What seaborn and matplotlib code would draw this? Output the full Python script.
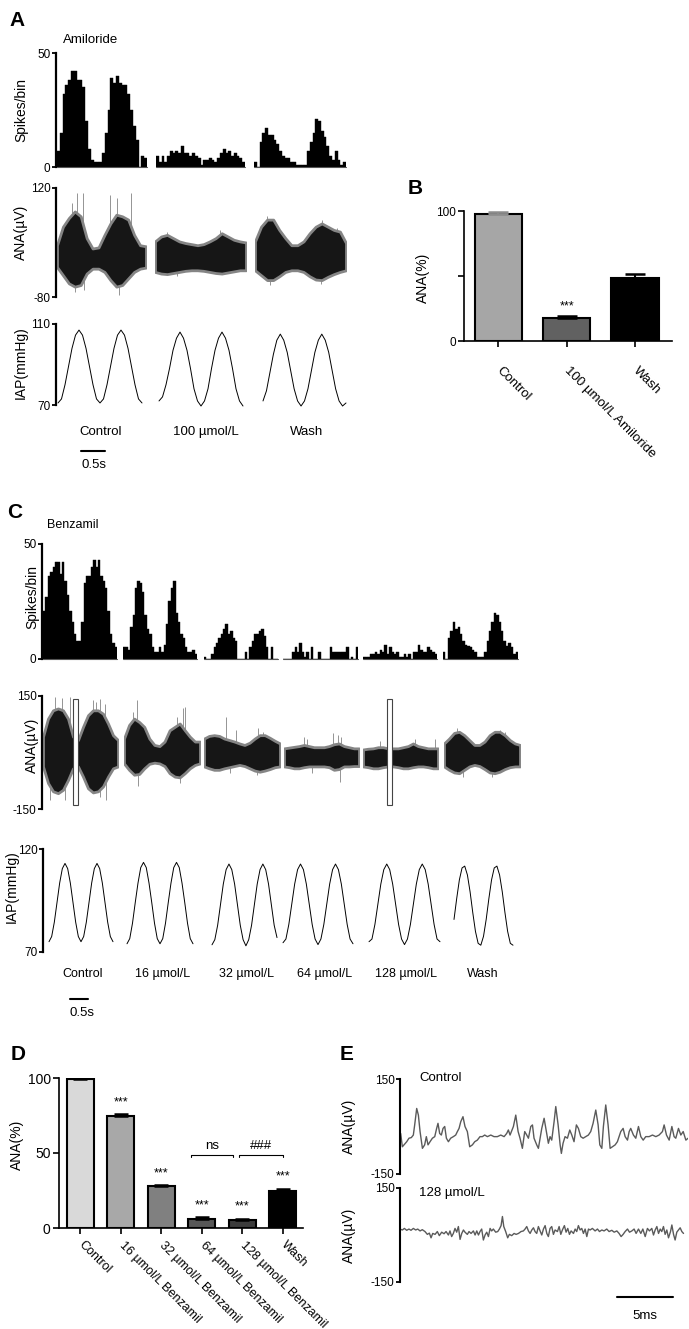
import numpy as np
import matplotlib
matplotlib.use("Agg")
import matplotlib.pyplot as plt
import seaborn as sns
from matplotlib.lines import Line2D
from matplotlib.patches import Rectangle

# ---------------- data ----------------
# A  (amiloride): spikes per bin for Control / 100 umol/L / Wash
hist_a = [
    [7, 15, 32, 36, 38, 42, 42, 38, 38, 35, 20, 8, 3, 2, 2, 2, 6, 15, 25, 39, 37, 40, 37, 36, 36, 32, 25, 18, 12, 0, 5, 4],
    [5, 2, 5, 2, 5, 7, 6, 7, 6, 9, 6, 6, 5, 6, 5, 4, 1, 3, 3, 4, 3, 2, 4, 6, 8, 6, 7, 5, 6, 5, 4, 2],
    [2, 0, 11, 15, 17, 14, 14, 12, 10, 7, 5, 4, 4, 2, 2, 1, 1, 1, 1, 7, 11, 15, 21, 20, 16, 13, 9, 5, 3, 7, 3, 1, 2],
]
# A: ANA envelope (uV), upper / lower edge, and the tallest single spikes
ana_a_hi = [
    [15, 49, 65, 77, 68, 28, 9, 11, 34, 55, 71, 68, 62, 34, 15, 13],
    [22, 31, 34, 28, 22, 19, 17, 15, 17, 22, 28, 37, 31, 25, 22, 20],
    [22, 49, 62, 62, 43, 28, 15, 15, 22, 37, 49, 55, 49, 43, 40, 19],
]
ana_a_lo = [
    [-25, -40, -55, -61, -58, -37, -28, -28, -34, -49, -61, -58, -46, -34, -28, -26],
    [-34, -37, -38, -36, -34, -32, -31, -31, -32, -34, -36, -37, -35, -33, -31, -31],
    [-31, -40, -49, -49, -42, -34, -31, -31, -34, -42, -48, -49, -43, -38, -34, -31],
]
spike_a_pos = [[2.5, 3.3, 4.3, 9.0, 10.1, 12.4, 3.1, 4.5, 10.4], [1.9, 10.7, 3.6], [1.9, 11.0, 13.5, 2.4, 10.8]]
spike_a_tip = [[92, 110, 110, 108, 102, 111, -71, -68, -77], [40, 43, -42], [68, 62, 46, -58, -57]]
# A: IAP (mmHg)
iap_a = [
    [71, 73, 80, 89, 98, 104.5, 107, 104.5, 98, 89, 80, 73, 71, 73, 80, 89, 98, 104.5, 107, 104.5, 98, 89, 80, 73, 71],
    [72, 74, 80, 88, 97, 103, 106, 103, 97, 88, 78, 72, 69.5, 72, 78, 88, 97, 103, 106, 103, 97, 88, 78, 72, 69.5],
    [72, 77, 86, 95, 102, 105, 102, 96, 87, 78, 72, 69.5, 72, 78, 87, 96, 102, 105, 102, 96, 87, 78, 72, 69.5, 71],
]
a_conditions = ["Control", "100 µmol/L", "Wash"]

# B
b_labels = ["Control", "100 µmol/L Amiloride", "Wash"]
b_values = [97.8, 17.6, 48.8]
b_sem = [1.4, 1.3, 3.1]
b_marks = ["", "***", ""]

# C  (benzamil)
c_conditions = ["Control", "16 µmol/L", "32 µmol/L", "64 µmol/L", "128 µmol/L", "Wash"]
hist_c = [
    [21, 27, 36, 38, 40, 42, 42, 37, 42, 34, 28, 21, 16, 11, 8, 8, 16, 33, 36, 36, 40, 43, 40, 43, 36, 34, 31, 21, 11, 7, 5],
    [5, 5, 4, 14, 19, 31, 34, 33, 29, 19, 13, 11, 5, 3, 3, 5, 3, 6, 15, 25, 31, 34, 20, 16, 11, 9, 5, 3, 3, 4, 2],
    [1, 0, 0, 2, 5, 7, 9, 11, 13, 15, 11, 12, 9, 8, 0, 0, 0, 3, 0, 5, 8, 11, 11, 12, 13, 10, 5, 0, 5, 0, 0],
    [0, 0, 0, 0, 3, 5, 3, 7, 3, 1, 3, 0, 5, 0, 0, 3, 0, 0, 0, 0, 5, 3, 3, 3, 3, 3, 3, 5, 0, 1, 0, 5],
    [1, 1, 1, 2, 2, 3, 2, 4, 3, 6, 2, 5, 3, 2, 3, 1, 1, 2, 1, 2, 0, 3, 3, 6, 4, 3, 3, 5, 4, 3, 2],
    [3, 0, 9, 12, 16, 13, 14, 11, 8, 6, 5.5, 5, 4, 3, 1, 1, 1, 3, 8, 12, 16, 20, 19, 16, 12, 8, 5.5, 7, 5, 2, 3],
]
ana_c_hi = [
    [42, 90, 112, 117, 112, 90, 42, 33, 68, 99, 112, 112, 103, 77, 46, 33],
    [37, 73, 90, 81, 68, 37, 20, 17, 29, 59, 68, 77, 59, 42, 29, 29],
    [37, 44, 46, 44, 37, 33, 29, 24, 20, 26, 37, 46, 46, 39, 31, 24],
    [11, 13, 15, 17, 20, 17, 14, 14, 14, 17, 22, 24, 17, 14, 11, 11],
    [8, 10, 11, 14, 14, 11, 11, 11, 14, 17, 24, 17, 14, 11, 11, 11],
    [24, 37, 52, 55, 46, 33, 20, 20, 29, 46, 55, 55, 46, 33, 24, 20],
]
ana_c_lo = [
    [-37, -81, -103, -108, -99, -73, -42, -37, -64, -95, -106, -103, -90, -64, -42, -37],
    [-29, -46, -59, -57, -42, -30, -27, -29, -36, -55, -64, -66, -55, -42, -33, -29],
    [-37, -42, -46, -46, -42, -39, -36, -33, -36, -42, -48, -51, -48, -44, -39, -37],
    [-37, -39, -42, -42, -39, -37, -37, -37, -37, -39, -46, -44, -37, -37, -36, -36],
    [-37, -39, -42, -42, -39, -37, -37, -39, -42, -42, -39, -37, -37, -39, -42, -42],
    [-37, -46, -53, -55, -46, -37, -33, -36, -44, -53, -55, -51, -44, -39, -37, -37],
]
spike_c_pos = [
    [2.3, 3.7, 5.3, 10.0, 10.7, 11.3, 12.3, 1.3, 4.3, 11.3, 12.7],
    [1.7, 2.5, 10.4, 11.6, 12.1, 2.8, 11.0],
    [4.3, 6.4, 10.7, 11.7, 5.1, 10.4],
    [3.9, 4.5, 9.9, 10.9, 11.5, 11.2, 5.5],
    [3.3, 10.3, 14.3],
    [2.5, 11.1, 12.0, 3.8, 9.4],
]
spike_c_tip = [
    [148, 146, 148, 139, 134, 143, 130, -125, -125, -118, -125],
    [108, 140, 95, 117, 120, -90, -81],
    [95, 59, 64, 55, -55, -60],
    [42, 35, 51, 46, 40, -77, -55],
    [31, 35, 35],
    [64, 59, 55, -64, -64],
]
iap_c = [
    [75, 77.5, 84.5, 94, 103.5, 110.5, 113, 110.5, 103.5, 94, 84.5, 77.5, 75, 77.5, 84.5, 94, 103.5, 110.5, 113, 110.5, 103.5, 94, 84.5, 77.5, 75],
    [74, 76.5, 84, 94, 103.5, 111, 113.5, 111, 103.5, 94, 84, 76.5, 74, 76.5, 84, 94, 103.5, 111, 113.5, 111, 103.5, 94, 84, 76.5, 74],
    [73.5, 76, 83, 93, 103, 110, 112.7, 110, 103, 93, 83, 76, 73, 76, 83, 93, 103, 110, 112.7, 110, 103, 93, 83, 77],
    [74.5, 76.3, 83.4, 93.2, 103, 110, 112.7, 110, 103, 93.2, 83.4, 76.3, 73.6, 76.3, 83.4, 93.2, 103, 110, 112.7, 110, 103, 93.2, 83.4, 76.3, 74],
    [75, 76.3, 83.4, 93.2, 103, 110, 112.7, 110, 103, 93.2, 83.4, 76.3, 73.6, 76.3, 83.4, 93.2, 103, 110, 112.7, 110, 103, 93.2, 83.4, 76.3, 75],
    [85.8, 95.9, 105, 110.8, 111.7, 107.4, 99.2, 89.1, 80, 74.2, 73.3, 77.6, 85.8, 95.9, 105, 110.8, 111.7, 107.4, 99.2, 89.1, 80, 74.2, 73.3],
]

# D
d_labels = ["Control", "16 µmol/L Benzamil", "32 µmol/L Benzamil",
            "64 µmol/L Benzamil", "128 µmol/L Benzamil", "Wash"]
d_values = [99.3, 74.4, 27.8, 6.2, 5.6, 24.7]
d_sem = [0.7, 1.6, 0.8, 0.9, 0.5, 1.5]
d_marks = ["", "***", "***", "***", "***", "***"]

# E: raw ANA (time in ms, voltage in uV)
e_ctrl_t = [0.06, 0.21, 0.36, 0.60, 0.80, 1.01, 1.19, 1.31, 1.49, 1.64, 1.79, 2.00, 2.20, 2.35, 2.50, 2.68,
            2.89, 3.10, 3.27, 3.39, 3.54, 3.69, 3.84, 3.99, 4.14, 4.32, 4.52, 4.76, 4.97, 5.12, 5.27, 5.42,
            5.62, 5.80, 6.01, 6.22, 6.46, 6.67, 6.90, 7.14, 7.35, 7.56, 7.80, 8.10, 8.39, 8.69, 8.99, 9.29,
            9.52, 9.67, 9.82, 9.94, 10.12, 10.33, 10.54, 10.71, 10.92, 11.13, 11.31, 11.46, 11.67, 11.82,
            11.96, 12.20, 12.35, 12.50, 12.65, 12.86, 13.06, 13.24, 13.39, 13.54, 13.75, 13.90, 14.11, 14.29,
            14.40, 14.55, 14.73, 14.94, 15.15, 15.33, 15.53, 15.74, 15.92, 16.13, 16.34, 16.58, 16.81, 17.02,
            17.23, 17.47, 17.68, 17.83, 18.01, 18.15, 18.36, 18.57, 18.75, 18.96, 19.20, 19.40, 19.70, 19.91,
            20.09, 20.30, 20.45, 20.59, 20.83, 21.04, 21.28, 21.49, 21.70, 21.93, 22.23, 22.53, 22.83, 23.12,
            23.42, 23.57, 23.78, 24.02, 24.26, 24.46, 24.61, 24.85, 25.06, 25.27, 25.51, 25.71]
e_ctrl_v = [-22, -64, -58, -48, -37, -35, -27, 5, 57, 36, -16, -69, -58, -32, -58, -48,
            -37, -32, -6, 10, -22, -27, -6, 0, -37, -48, -37, -32, -27, -16, -6, 15,
            31, 0, -16, -64, -58, -48, -43, -32, -32, -27, -32, -27, -32, -32, -27, -32,
            -22, -11, -27, -16, 0, 36, -16, -37, -69, -16, -27, -37, 0, 5,
            -37, -58, -69, -37, -6, 26, -16, -53, -32, -43, 15, 63, 5, -58,
            -85, -53, -32, -37, -11, -27, -48, 5, -6, -32, -37, -32, -27, -16,
            10, 52, 5, -58, -69, 0, 68, 5, -69, -64, -58, -48, -16, -6,
            -32, -43, -16, -6, -27, -37, 0, -32, -43, -32, -32, -27, -32, -27,
            -16, 5, -27, -43, 0, -32, -37, -6, -27, -16, -43, -37]
e_drug_t = [0.0, 0.21, 0.39, 0.60, 0.80, 0.98, 1.19, 1.40, 1.58, 1.79, 1.99, 2.23, 2.44, 2.62, 2.77, 2.92,
            3.13, 3.33, 3.51, 3.72, 3.93, 4.11, 4.32, 4.46, 4.61, 4.76, 4.91, 5.06, 5.21, 5.36, 5.51, 5.66,
            5.80, 6.01, 6.16, 6.34, 6.55, 6.70, 6.85, 7.00, 7.14, 7.29, 7.44, 7.59, 7.74, 7.89, 8.04, 8.18,
            8.33, 8.54, 8.72, 8.87, 9.02, 9.14, 9.26, 9.43, 9.61, 9.76, 9.97, 10.18, 10.36, 10.57, 10.80,
            11.01, 11.16, 11.31, 11.46, 11.61, 11.76, 11.91, 12.05, 12.20, 12.35, 12.50, 12.65, 12.80, 12.95,
            13.10, 13.24, 13.39, 13.54, 13.69, 13.84, 14.05, 14.20, 14.35, 14.49, 14.67, 14.82, 14.97, 15.12,
            15.27, 15.48, 15.63, 15.77, 15.92, 16.07, 16.22, 16.37, 16.52, 16.67, 16.82, 16.96, 17.17, 17.41,
            17.62, 17.80, 18.01, 18.21, 18.45, 18.66, 18.90, 19.11, 19.35, 19.55, 19.73, 19.91, 20.09, 20.30,
            20.48, 20.69, 20.89, 21.07, 21.28, 21.49, 21.67, 21.88, 22.08, 22.26, 22.47, 22.62, 22.77, 22.92,
            23.07, 23.22, 23.36, 23.51, 23.66, 23.81, 23.96, 24.14, 24.26, 24.41, 24.55, 24.70, 24.85, 25.00,
            25.15, 25.30]
e_drug_v = [19, 16, 21, 15, 19, 15, 21, 16, 19, 13, 17, 11, 2, 6, -9, 5,
            2, 11, -2, 9, 4, 11, 0, 13, -5, 5, 21, 9, 27, -14, 5, 16,
            9, 2, 11, 5, 13, 0, 13, 0, 11, 19, -16, 0, 9, -5, 21, 13,
            19, 9, 11, 19, 30, 59, 27, 11, -9, 2, -2, 5, 2, 5, 11,
            13, 19, 27, 13, 5, 16, 23, 11, 5, 27, 13, 0, 19, 30,
            5, -5, 21, 27, 2, 16, 11, 27, 2, 16, 30, 9, 21, 2,
            13, 5, 19, 11, 30, 16, 21, 5, 19, -5, 19, 16, 21, 13,
            19, 11, 16, 13, 19, 11, 15, 9, 13, 5, -5, 2, 11, 19,
            9, 13, 19, 5, 19, 5, 19, -5, 21, 13, 21, 0, 16, 27,
            5, 19, 11, 27, 2, 16, -9, 11, 32, 2, -16, 9, 16, 23,
            11, 5]

# ---------------- style ----------------
sns.set_style("ticks", {"axes.edgecolor": "black", "xtick.color": "black",
                        "ytick.color": "black", "text.color": "black"})
plt.rcParams["font.family"] = ["Liberation Sans", "DejaVu Sans"]

W, H = 689, 1329
fig = plt.figure(figsize=(W / 100, H / 100), dpi=100)


def fx(x):
    return x / W


def fy(y):
    return 1 - y / H


def px_axes(x0, x1, y_top, y_bot):
    return fig.add_axes([fx(x0), fy(y_bot), (x1 - x0) / W, (y_bot - y_top) / H])


def y_scale(x, y_top, y_bot, lo, hi, fs=8.5):
    ax = px_axes(x, x + 2, y_top, y_bot)
    ax.set_ylim(lo, hi)
    ax.set_xticks([])
    ax.set_yticks([lo, hi])
    ax.set_yticklabels([f"{lo:g}", f"{hi:g}"])
    for s in ["top", "right", "bottom"]:
        ax.spines[s].set_visible(False)
    ax.spines["left"].set_linewidth(1.6)
    ax.tick_params(axis="y", length=3, width=1.3, pad=1, labelsize=fs)
    ax.patch.set_alpha(0)
    return ax


def hist_row(spans, y_top, y_bot, rows):
    for (x0, x1), counts in zip(spans, rows):
        ax = px_axes(x0, x1, y_top, y_bot)
        sns.barplot(x=np.arange(len(counts)), y=counts, color="black", saturation=1,
                    width=1.0, edgecolor="black", linewidth=0.3, ax=ax)
        ax.axhline(0, color="#555555", lw=0.8, clip_on=False)
        ax.set_xlim(-0.5, len(counts) - 0.5)
        ax.set_ylim(0, 50)
        ax.axis("off")


def ana_row(spans, y_top, y_bot, lo, hi, highs, lows, pos, tips):
    axes = []
    for (x0, x1), up, dn, p, t in zip(spans, highs, lows, pos, tips):
        ax = px_axes(x0, x1, y_top, y_bot)
        idx = np.arange(len(up))
        ax.vlines(p, 0, t, color="#6a6a6a", lw=0.5, zorder=1)
        ax.fill_between(idx, dn, up, facecolor="#161616", edgecolor="#858585", lw=2.0, zorder=2)
        ax.set_xlim(0, len(up) - 1)
        ax.set_ylim(lo, hi)
        ax.axis("off")
        axes.append(ax)
    return axes


def iap_row(spans, y_top, y_bot, lo, hi, traces):
    for (x0, x1), vals in zip(spans, traces):
        ax = px_axes(x0, x1, y_top, y_bot)
        sns.lineplot(x=np.arange(len(vals)), y=vals, color="black", lw=0.7, ax=ax)
        for ln in ax.lines:
            ln.set_clip_on(False)
        ax.set_xlim(0, len(vals) - 1)
        ax.set_ylim(lo, hi)
        ax.axis("off")


def ylabel(x, y, s, fs=10):
    fig.text(fx(x), fy(y), s, rotation=90, ha="center", va="center", fontsize=fs)


def scale_bar(x0, x1, y, label, ty, ha="left"):
    fig.add_artist(Line2D([fx(x0), fx(x1)], [fy(y), fy(y)], color="black", lw=1.5,
                          transform=fig.transFigure))
    tx = x0 if ha == "left" else (x0 + x1) / 2
    fig.text(fx(tx), fy(ty), label, ha=ha, va="center", fontsize=9.5)


def panel_letter(x, y, s):
    fig.text(fx(x), fy(y), s, fontsize=15, fontweight="bold", ha="center", va="center")


# ---------------- A ----------------
panel_letter(17, 20, "A")
fig.text(fx(63), fy(40), "Amiloride", fontsize=9.5, va="center")
hist_row([(57, 147), (156, 245), (254, 346)], 53, 167, hist_a)
y_scale(56, 53, 167, 0, 50)
ana_row([(57, 146), (155, 246), (255, 346)], 188, 297, -80, 120, ana_a_hi, ana_a_lo, spike_a_pos, spike_a_tip)
y_scale(56, 188, 297, -80, 120)
iap_row([(58, 142), (159, 243), (263, 346)], 324, 405, 70, 110, iap_a)
y_scale(56, 324, 405, 70, 110)
ylabel(21, 110, "Spikes/bin")
ylabel(21, 232, "ANA(µV)")
ylabel(21, 363, "IAP(mmHg)")
for cx, s in zip([101, 206, 307], a_conditions):
    fig.text(fx(cx), fy(432), s, ha="center", va="center", fontsize=9.5)
scale_bar(81, 105, 451, "0.5s", 465)

# ---------------- B ----------------
panel_letter(415, 188, "B")
ax = px_axes(464, 672, 211, 341)
sns.barplot(x=b_labels, y=b_values, hue=b_labels, palette=["#a6a6a6", "#616161", "#000000"],
            legend=False, width=0.69, edgecolor="black", linewidth=1.5, saturation=1, ax=ax)
for i, (v, e, c) in enumerate(zip(b_values, b_sem, ["#8c8c8c", "black", "black"])):
    ax.errorbar(i, v, yerr=[[0], [e]], fmt="none", ecolor=c, elinewidth=1.5, capsize=7, capthick=1.8, zorder=4)
    if b_marks[i]:
        ax.text(i, v + e + 3, b_marks[i], ha="center", va="bottom", fontsize=9)
ax.set_xlim(-0.5, 2.54)
ax.set_ylim(0, 100)
ax.set_yticks([0, 50, 100])
ax.set_yticklabels(["0", "", "100"])
ax.set_xticks(range(3))
ax.set_xticklabels(b_labels, rotation=-45, ha="left", va="center", rotation_mode="anchor", fontsize=9.5)
ax.tick_params(axis="x", length=4, width=1.2, pad=16)
ax.tick_params(axis="y", length=4, width=1.2, pad=2, labelsize=8.5)
ax.set_xlabel("")
ax.set_ylabel("")
sns.despine(ax=ax)
for s in ["left", "bottom"]:
    ax.spines[s].set_linewidth(1.2)
ylabel(423, 278, "ANA(%)")

# ---------------- C ----------------
panel_letter(15, 512, "C")
fig.text(fx(47), fy(525), "Benzamil", fontsize=9, va="center")
hist_row([(43, 117), (123, 197), (204, 278), (283, 358), (363, 437), (443, 518)], 544, 659, hist_c)
y_scale(42, 544, 659, 0, 50)
c_axes = ana_row([(43, 118), (124, 200), (204, 280), (284, 359), (363, 438), (444, 520)], 696, 809,
                 -150, 150, ana_c_hi, ana_c_lo, spike_c_pos, spike_c_tip)
y_scale(42, 696, 809, -150, 150)
# windows shown enlarged in E
for ax_, x0 in [(c_axes[0], 5.9), (c_axes[4], 4.8)]:
    ax_.add_patch(Rectangle((x0, -140), 1.0, 282, facecolor="white", edgecolor="#444444",
                            lw=0.8, zorder=3, clip_on=False))
iap_row([(49, 113), (127, 193), (212, 277), (283, 353), (369, 440), (454, 513)], 849, 952, 70, 120, iap_c)
y_scale(43, 849, 952, 70, 120)
ylabel(32, 597, "Spikes/bin")
ylabel(32, 745, "ANA(µV)")
ylabel(12, 887, "IAP(mmHg)")
for cx, s in zip([83, 163, 247, 325, 406, 483], c_conditions):
    fig.text(fx(cx), fy(974), s, ha="center", va="center", fontsize=9)
scale_bar(70, 88, 999, "0.5s", 1013)

# ---------------- D ----------------
panel_letter(18, 1055, "D")
ax = px_axes(59, 303, 1078, 1228)
sns.barplot(x=d_labels, y=d_values, hue=d_labels,
            palette=["#d9d9d9", "#a8a8a8", "#808080", "#575757", "#3c3c3c", "#000000"],
            legend=False, width=0.67, edgecolor="black", linewidth=1.5, saturation=1, ax=ax)
ax.errorbar(range(len(d_values)), d_values, yerr=[np.zeros(len(d_sem)), d_sem], fmt="none",
            ecolor="black", elinewidth=1.5, capsize=5, capthick=1.8, zorder=4)
for i, (v, e, m) in enumerate(zip(d_values, d_sem, d_marks)):
    if m:
        ax.text(i, v + e + 4, m, ha="center", va="bottom", fontsize=9)
for a, b, txt in [(2.73, 3.78, "ns"), (3.93, 5.0, "###")]:
    ax.plot([a, a, b, b], [47.3, 48.7, 48.7, 47.3], color="black", lw=0.8)
    ax.text((a + b) / 2, 50.5, txt, ha="center", va="bottom", fontsize=9.5)
ax.set_xlim(-0.53, 5.5)
ax.set_ylim(0, 100)
ax.set_yticks([0, 50, 100])
ax.set_xticks(range(len(d_labels)))
ax.set_xticklabels(d_labels, rotation=-45, ha="left", va="center", rotation_mode="anchor", fontsize=9)
ax.tick_params(axis="x", length=4, width=1.2, pad=7)
ax.tick_params(axis="y", length=4, width=1.2, pad=2, labelsize=10)
ax.set_xlabel("")
ax.set_ylabel("")
sns.despine(ax=ax)
for s in ["left", "bottom"]:
    ax.spines[s].set_linewidth(1.2)
ylabel(17, 1145, "ANA(%)")

# ---------------- E ----------------
panel_letter(347, 1055, "E")
for (y_top, y_bot), t, v, name, ly in [((1079, 1174), e_ctrl_t, e_ctrl_v, "Control", 1078),
                                        ((1188, 1282), e_drug_t, e_drug_v, "128 µmol/L", 1193)]:
    ax = px_axes(400, 688, y_top, y_bot)
    sns.lineplot(x=t, y=v, color="#5a5a5a", lw=1.0, ax=ax)
    ax.set_xlim(0, 25.7)
    ax.set_ylim(-150, 150)
    ax.set_xticks([])
    ax.set_yticks([-150, 150])
    ax.set_yticklabels(["-150", "150"])
    for s in ["top", "right", "bottom"]:
        ax.spines[s].set_visible(False)
    ax.spines["left"].set_linewidth(1.5)
    ax.tick_params(axis="y", length=3, width=1.3, pad=1, labelsize=8.5)
    ax.patch.set_alpha(0)
    fig.text(fx(419), fy(ly), name, fontsize=9.5, va="center")
    ylabel(349, (y_top + y_bot) / 2, "ANA(µV)")
scale_bar(617, 673, 1297, "5ms", 1316, ha="center")

fig.savefig("out.png", dpi=100)
